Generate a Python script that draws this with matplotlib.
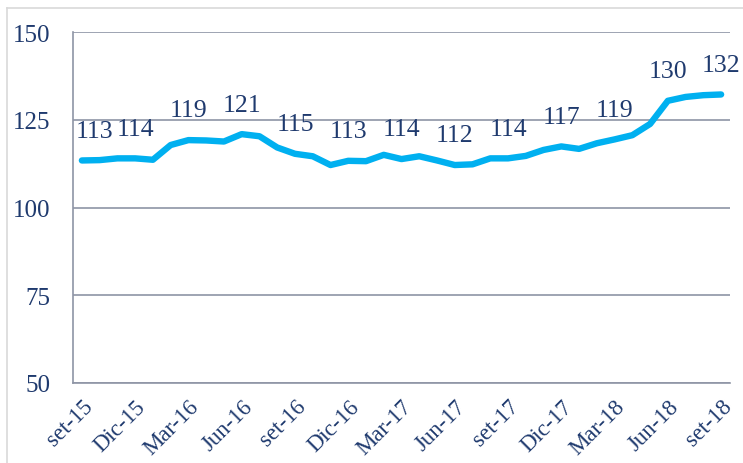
import matplotlib.pyplot as plt
from matplotlib.lines import Line2D
import numpy as np

# monthly index, set-15 .. set-18
months = ['set-15', 'oct-15', 'nov-15', 'Dic-15', 'ene-16', 'feb-16', 'Mar-16', 'abr-16', 'may-16',
          'Jun-16', 'jul-16', 'ago-16', 'set-16', 'oct-16', 'nov-16', 'Dic-16', 'ene-17', 'feb-17',
          'Mar-17', 'abr-17', 'may-17', 'Jun-17', 'jul-17', 'ago-17', 'set-17', 'oct-17', 'nov-17',
          'Dic-17', 'ene-18', 'feb-18', 'Mar-18', 'abr-18', 'may-18', 'Jun-18', 'jul-18', 'ago-18',
          'set-18']
values = [113.4, 113.5, 114.0, 114.0, 113.6, 117.8, 119.2, 119.1, 118.8, 120.9, 120.3, 117.1,
          115.3, 114.6, 112.1, 113.3, 113.2, 115.0, 113.8, 114.6, 113.4, 112.1, 112.3, 114.0,
          114.0, 114.7, 116.4, 117.4, 116.7, 118.3, 119.4, 120.6, 123.8, 130.4, 131.5, 132.0,
          132.2]
label_idx = list(range(0, 37, 3))
yticks = [50, 75, 100, 125, 150]

navy = '#1F3A6E'
grid_c = '#8E95A5'
font = 'Liberation Serif'

fig = plt.figure(figsize=(7.43, 4.64), dpi=100)
ax = fig.add_axes([73 / 743, 80 / 464, 657 / 743, 351 / 464])

x = np.arange(len(values))
ax.plot(x, values, color='#00B0F0', lw=4.6, solid_capstyle='round', solid_joinstyle='round', zorder=3)

for i in label_idx:
    if i == 0:
        ax.annotate(f'{values[i]:.0f}', (x[i], values[i]), xytext=(-4.5, 17), textcoords='offset points',
                    ha='left', va='baseline', fontsize=18.5, family=font, color=navy)
    else:
        ax.annotate(f'{values[i]:.0f}', (x[i], values[i]), xytext=(0, 17), textcoords='offset points',
                    ha='center', va='baseline', fontsize=18.5, family=font, color=navy)

ax.set_xlim(-0.5, len(values) - 0.5)
ax.set_ylim(50, 150)
ax.set_yticks(yticks)
ax.set_yticklabels([str(v) for v in yticks], fontsize=18, family=font, color=navy)
ax.set_xticks(label_idx)
ax.set_xticklabels([months[i] for i in label_idx], fontsize=16.5, family=font, color=navy,
                   rotation=45, ha='right', rotation_mode='anchor')
ax.tick_params(axis='y', length=0, pad=16)
ax.tick_params(axis='x', length=0, pad=9)

ax.grid(axis='y', color=grid_c, lw=1.2)
ax.set_axisbelow(True)
for s in ['top', 'right']:
    ax.spines[s].set_visible(False)
for s in ['left', 'bottom']:
    ax.spines[s].set_color(grid_c)
    ax.spines[s].set_linewidth(1.2)

# outer chart frame (light gray)
fig.add_artist(Line2D([7 / 743, 7 / 743], [0, 1 - 9 / 464], color='#D9D9D9', lw=1.2))
fig.add_artist(Line2D([7 / 743, 1], [1 - 9 / 464, 1 - 9 / 464], color='#D9D9D9', lw=1.2))

plt.savefig('out.png', dpi=100)
